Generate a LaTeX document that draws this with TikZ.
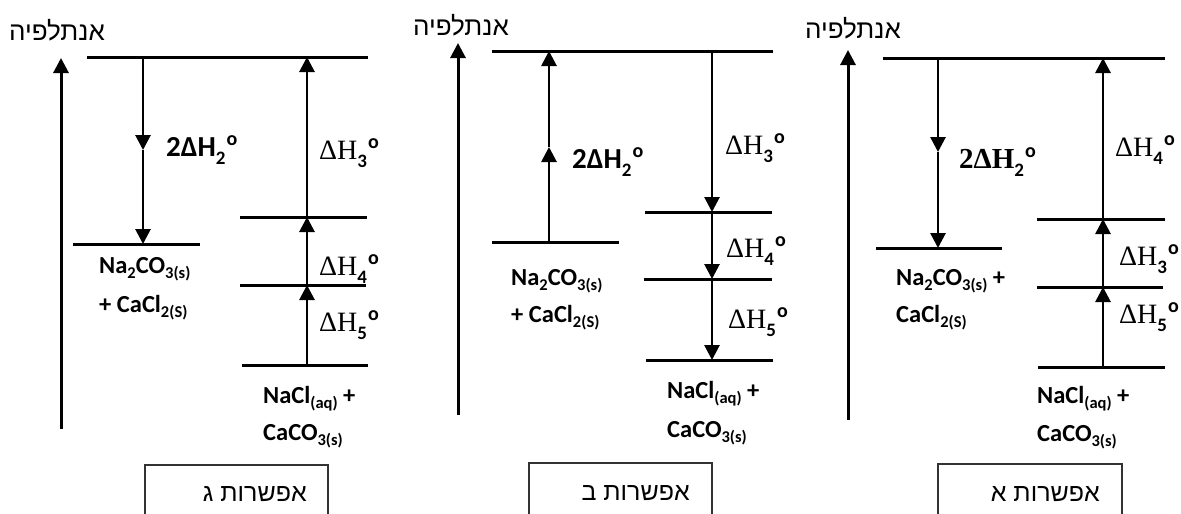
\documentclass[tikz,border=0pt]{standalone}
\usepackage{fontspec}
\setmainfont{Liberation Serif}
\newfontfamily\carlito{Carlito}
\newfontfamily\hebfont[Script=Hebrew]{Liberation Sans}
\TeXXeTstate=1
\usetikzlibrary{arrows.meta}

% chemical formulas (bold sans, lowered subscripts)
\newcommand\chsub[1]{\raisebox{-5pt}{\fontsize{16.5}{16.5}\selectfont #1}}
\newcommand\chem[1]{{\carlito\bfseries\fontsize{24.5}{24.5}\selectfont #1}}
% enthalpy labels
\newcommand\dhsub[1]{\raisebox{-8pt}{\carlito\bfseries\fontsize{19}{19}\selectfont #1}}
\newcommand\dhdeg{\kern1pt\raisebox{11pt}{\carlito\bfseries\fontsize{20}{20}\selectfont o}}
\newcommand\dH[1]{{\fontsize{28}{28}\selectfont ΔH}\dhsub{#1}\dhdeg}
\newcommand\twodHsans{{\carlito\bfseries\fontsize{29}{29}\selectfont 2ΔH}\dhsub{2}\dhdeg}
\newcommand\twodHserif{{\bfseries\fontsize{29}{29}\selectfont 2ΔH}\dhsub{2}\dhdeg}
% Hebrew font sizes
\newcommand\hebaxis{\hebfont\fontsize{26}{26}\selectfont}
\newcommand\hebopt{\hebfont\fontsize{25}{25}\selectfont}

\begin{document}
\begin{tikzpicture}[x=1pt,y=-1pt,
  level/.style={line width=3pt},
  tip/.style={-{Triangle[width=15pt,length=15pt]}},
  ax/.style={line width=3pt,tip},
  arr/.style={line width=2.8pt,tip},
  lab/.style={inner sep=0pt,anchor=base west},
  axlab/.style={inner sep=0pt,anchor=base},
  optbox/.style={draw=black!80,line width=1.3pt},
  optlab/.style={inner sep=0pt,anchor=base east}]
\useasboundingbox (0,0) rectangle (1181,514);
\clip (0,0) rectangle (1181,514);

% ===================== option gimel (left) =====================
\node[axlab] (gAx) at (57,40) {\hebaxis\beginR אנתלפיה\endR};
\coordinate (gAxB) at (61,429);
\coordinate (gAxT) at (61,58);
\draw[ax] (gAxB) -- (gAxT);
% levels
\coordinate (gTopL) at (87,57);    \coordinate (gTopR) at (368,57);
\coordinate (gNaL) at (73,244);    \coordinate (gNaR) at (200,244);
\coordinate (gL1L) at (240,217);   \coordinate (gL1R) at (367,217);
\coordinate (gL2L) at (240,285);   \coordinate (gL2R) at (366,285);
\coordinate (gL3L) at (242,365);   \coordinate (gL3R) at (368,365);
\draw[level] (gTopL) -- (gTopR);
\draw[level] (gNaL) -- (gNaR);
\draw[level] (gL1L) -- (gL1R);
\draw[level] (gL2L) -- (gL2R);
\draw[level] (gL3L) -- (gL3R);
% arrows
\coordinate (gA0) at (143,57); \coordinate (gAm) at (143,150); \coordinate (gA1) at (143,244);
\draw[arr] (gA0) -- (gAm);
\draw[arr] (gAm) -- (gA1);
\coordinate (gB0) at (307,57); \coordinate (gB1) at (307,217);
\coordinate (gB2) at (307,285); \coordinate (gB3) at (307,365);
\draw[arr] (gB3) -- (gB2);
\draw[arr] (gB2) -- (gB1);
\draw[arr] (gB1) -- (gB0);
% labels
\node[lab] (gH2) at (166,156) {\twodHsans};
\node[lab] (gH3) at (319,159) {\dH{3}};
\node[lab] (gH4) at (319,275) {\dH{4}};
\node[lab] (gH5) at (319,331) {\dH{5}};
\node[lab] (gNa1) at (99,273) {\chem{Na\chsub{2}CO\chsub{3(s)}}};
\node[lab] (gNa2) at (99,312) {\chem{+ CaCl\chsub{2(S)}}};
\node[lab] (gCa1) at (263,403) {\chem{NaCl\chsub{(aq)} +}};
\node[lab] (gCa2) at (263,440) {\chem{CaCO\chsub{3(s)}}};
% option box
\draw[optbox] (145,530) -- (145,465) -- (328,465) -- (328,530);
\node[optlab] (gOpt) at (307,501) {\hebopt\beginR אפשרות ג\endR};

% ===================== option bet (middle) =====================
\node[axlab] (bAx) at (461,35) {\hebaxis\beginR אנתלפיה\endR};
\coordinate (bAxB) at (458,415);
\coordinate (bAxT) at (458,43);
\draw[ax] (bAxB) -- (bAxT);
\coordinate (bTopL) at (492,51);   \coordinate (bTopR) at (773,51);
\coordinate (bNaL) at (492,242);   \coordinate (bNaR) at (619,242);
\coordinate (bL1L) at (645,212);   \coordinate (bL1R) at (772,212);
\coordinate (bL2L) at (644,279);   \coordinate (bL2R) at (772,279);
\coordinate (bL3L) at (646,360);   \coordinate (bL3R) at (773,360);
\draw[level] (bTopL) -- (bTopR);
\draw[level] (bNaL) -- (bNaR);
\draw[level] (bL1L) -- (bL1R);
\draw[level] (bL2L) -- (bL2R);
\draw[level] (bL3L) -- (bL3R);
\coordinate (bA0) at (549,242); \coordinate (bAm) at (549,147); \coordinate (bA1) at (549,51);
\draw[arr] (bA0) -- (bAm);
\draw[arr] (bAm) -- (bA1);
\coordinate (bB0) at (712,51); \coordinate (bB1) at (712,212);
\coordinate (bB2) at (712,279); \coordinate (bB3) at (712,360);
\draw[arr] (bB0) -- (bB1);
\draw[arr] (bB1) -- (bB2);
\draw[arr] (bB2) -- (bB3);
\node[lab] (bH2) at (572,168) {\twodHsans};
\node[lab] (bH3) at (725,154) {\dH{3}};
\node[lab] (bH4) at (726,257) {\dH{4}};
\node[lab] (bH5) at (728,328) {\dH{5}};
\node[lab] (bNa1) at (511,285) {\chem{Na\chsub{2}CO\chsub{3(s)}}};
\node[lab] (bNa2) at (511,322) {\chem{+ CaCl\chsub{2(S)}}};
\node[lab] (bCa1) at (667,398) {\chem{NaCl\chsub{(aq)} +}};
\node[lab] (bCa2) at (667,437) {\chem{CaCO\chsub{3(s)}}};
\draw[optbox] (529,530) -- (529,463) -- (712,463) -- (712,530);
\node[optlab] (bOpt) at (690,500) {\hebopt\beginR אפשרות ב\endR};

% ===================== option alef (right) =====================
\node[axlab] (aAx) at (853,38) {\hebaxis\beginR אנתלפיה\endR};
\coordinate (aAxB) at (848,420);
\coordinate (aAxT) at (848,50);
\draw[ax] (aAxB) -- (aAxT);
\coordinate (aTopL) at (883,58);   \coordinate (aTopR) at (1165,58);
\coordinate (aNaL) at (876,248);   \coordinate (aNaR) at (1002,248);
\coordinate (aL1L) at (1037,219);  \coordinate (aL1R) at (1165,219);
\coordinate (aL2L) at (1037,287);  \coordinate (aL2R) at (1163,287);
\coordinate (aL3L) at (1038,367);  \coordinate (aL3R) at (1165,367);
\draw[level] (aTopL) -- (aTopR);
\draw[level] (aNaL) -- (aNaR);
\draw[level] (aL1L) -- (aL1R);
\draw[level] (aL2L) -- (aL2R);
\draw[level] (aL3L) -- (aL3R);
\coordinate (aA0) at (938,58); \coordinate (aAm) at (938,152); \coordinate (aA1) at (938,248);
\draw[arr] (aA0) -- (aAm);
\draw[arr] (aAm) -- (aA1);
\coordinate (aB0) at (1103,58); \coordinate (aB1) at (1103,219);
\coordinate (aB2) at (1103,287); \coordinate (aB3) at (1103,367);
\draw[arr] (aB3) -- (aB2);
\draw[arr] (aB2) -- (aB1);
\draw[arr] (aB1) -- (aB0);
\node[lab] (aH2) at (959,168) {\twodHserif};
\node[lab] (aH4) at (1115,156) {\dH{4}};
\node[lab] (aH3) at (1119,265) {\dH{3}};
\node[lab] (aH5) at (1119,323) {\dH{5}};
\node[lab] (aNa1) at (896,285) {\chem{Na\chsub{2}CO\chsub{3(s)} +}};
\node[lab] (aNa2) at (896,322) {\chem{CaCl\chsub{2(S)}}};
\node[lab] (aCa1) at (1037,403) {\chem{NaCl\chsub{(aq)} +}};
\node[lab] (aCa2) at (1037,441) {\chem{CaCO\chsub{3(s)}}};
\draw[optbox] (938,530) -- (938,464) -- (1122,464) -- (1122,530);
\node[optlab] (aOpt) at (1100,501) {\hebopt\beginR אפשרות א\endR};
\end{tikzpicture}
\end{document}
